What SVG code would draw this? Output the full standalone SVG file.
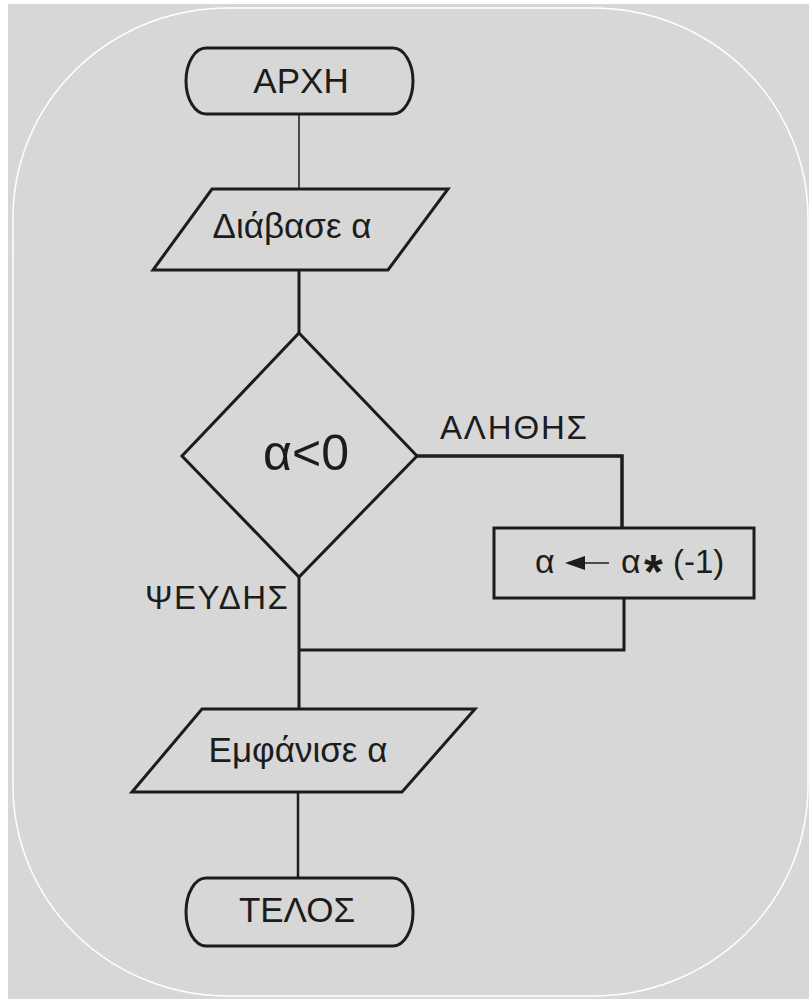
<svg xmlns="http://www.w3.org/2000/svg" width="809" height="999" viewBox="0 0 809 999">
<defs>
<style>
.bg{fill:#d7d7d7}
.frame{fill:none;stroke:#ffffff;stroke-width:1.5}
.shape{fill:#d7d7d7;stroke:#1c1c1c;stroke-width:3;stroke-linejoin:miter}
.ln{fill:none;stroke:#1c1c1c;stroke-linecap:butt;stroke-linejoin:miter}
.t{font-family:"Liberation Sans",Arial,sans-serif;fill:#1c1c1c;text-anchor:middle}
.lbl{font-family:"Liberation Sans",Arial,sans-serif;fill:#1c1c1c}
</style>
</defs>
<rect x="0" y="0" width="809" height="999" fill="#ffffff"/>
<rect class="bg" x="8" y="4" width="801" height="995"/>
<rect class="frame" x="13" y="8" width="795" height="988" rx="215" ry="210"/>

<g id="connectors">
<line class="ln" x1="299" y1="114" x2="299" y2="190" stroke-width="1.5"/>
<line class="ln" x1="299" y1="270" x2="299" y2="334" stroke-width="3"/>
<polyline class="ln" points="417,456 622,456 622,528" stroke-width="3.5"/>
<polyline class="ln" points="624,598 624,650 299,650" stroke-width="3"/>
<line class="ln" x1="299" y1="577" x2="299" y2="710" stroke-width="3"/>
<line class="ln" x1="298" y1="792" x2="298" y2="878" stroke-width="2.5"/>
</g>

<g id="start">
<path class="shape" d="M206,48 H393 A20,33 0 0 1 393,114 H206 A20,33 0 0 1 206,48 Z"/>
<text class="t" x="301" y="93" font-size="35">ΑΡΧΗ</text>
</g>

<g id="read">
<polygon class="shape" points="212,189 448,189 388,270 153,270"/>
<text class="t" x="292" y="238" font-size="35">Διάβασε α</text>
</g>

<g id="decision">
<polygon class="shape" points="299,333 417,456 299,577 182,456"/>
<text class="t" x="306" y="470" font-size="50">α&lt;0</text>
</g>

<g id="label-true">
<text class="lbl" x="440" y="439" font-size="33" textLength="147" lengthAdjust="spacing">ΑΛΗΘΗΣ</text>
</g>

<g id="label-false">
<text class="lbl" x="145" y="609" font-size="33" textLength="143" lengthAdjust="spacing">ΨΕΥΔΗΣ</text>
</g>

<g id="assign">
<rect class="shape" x="494" y="528" width="260" height="70"/>
<text class="lbl" x="535" y="573" font-size="34">α</text>
<line class="ln" x1="580" y1="563" x2="609" y2="563" stroke-width="1.5"/>
<polygon points="565,563 585,556 585,570" fill="#1c1c1c"/>
<text class="lbl" x="621" y="573" font-size="34">α</text>
<text class="lbl" x="644" y="588" font-size="48" font-weight="bold">*</text>
<text class="lbl" x="673" y="573" font-size="33">(-1)</text>
</g>

<g id="print">
<polygon class="shape" points="202,709 475,709 402,792 132,792"/>
<text class="t" x="298" y="762" font-size="35">Εμφάνισε α</text>
</g>

<g id="end">
<path class="shape" d="M206,878 H393 A20,34 0 0 1 393,946 H206 A20,34 0 0 1 206,878 Z"/>
<text class="t" x="297" y="922" font-size="35">ΤΕΛΟΣ</text>
</g>
</svg>
